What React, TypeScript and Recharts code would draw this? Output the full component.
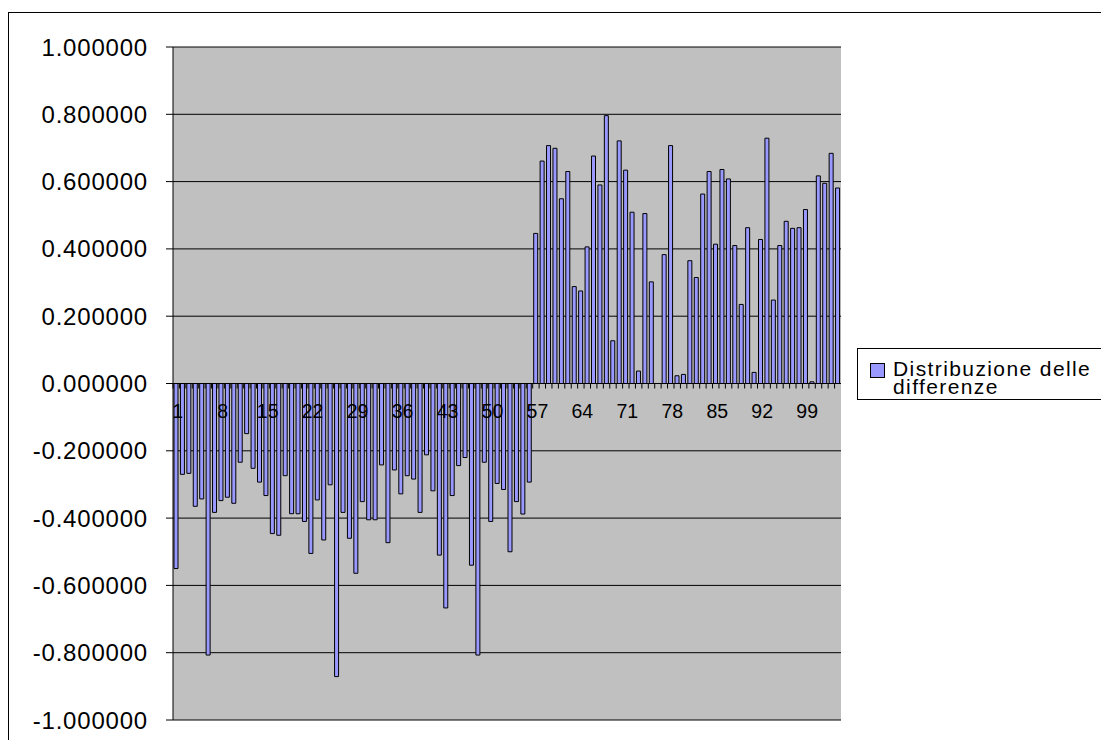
import * as React from "react";
import {
  BarChart, Bar, XAxis, YAxis, CartesianGrid, ReferenceLine, Legend
} from "recharts";

const differences = [
  -0.55, -0.27, -0.267, -0.365, -0.343, -0.807, -0.383, -0.348, -0.338, -0.356,
  -0.234, -0.149, -0.252, -0.293, -0.333, -0.446, -0.451, -0.274, -0.387, -0.387,
  -0.41, -0.505, -0.346, -0.465, -0.301, -0.871, -0.383, -0.46, -0.564, -0.351,
  -0.405, -0.405, -0.242, -0.473, -0.257, -0.328, -0.274, -0.284, -0.383, -0.212,
  -0.319, -0.51, -0.667, -0.333, -0.244, -0.22, -0.54, -0.807, -0.234, -0.41,
  -0.297, -0.315, -0.5, -0.351, -0.388, -0.293,
  0.446, 0.661, 0.707, 0.699, 0.549, 0.63, 0.288, 0.275, 0.406, 0.676,
  0.59, 0.796, 0.127, 0.721, 0.634, 0.509, 0.037, 0.505, 0.302, 0.0,
  0.383, 0.707, 0.023, 0.027, 0.365, 0.315, 0.563, 0.63, 0.414, 0.636,
  0.608, 0.41, 0.235, 0.463, 0.033, 0.428, 0.729, 0.248, 0.41, 0.482,
  0.461, 0.463, 0.517, 0.005, 0.617, 0.595, 0.684, 0.581,
];
const categories = differences.map((_, i) => i + 1);
const yTicks = [-1, -0.8, -0.6, -0.4, -0.2, 0, 0.2, 0.4, 0.6, 0.8, 1];
const seriesName = "Distribuzione delle differenze";

const chartData = categories.map((c, i) => ({ cat: c, diff: differences[i] }));

const W = 1100;
const H = 727;
const X_AXIS_H = 1;
const M = { top: 34, right: 268, bottom: 19, left: 0 };
const Y_AXIS_W = 164;
const PLOT_H = H - M.top - M.bottom - X_AXIS_H;
const PLOT_W = W - M.left - M.right - Y_AXIS_W;
const ZERO_Y = M.top + PLOT_H / 2;
const BAND = PLOT_W / categories.length;
const FONT = "'Liberation Sans', Arial, sans-serif";

const renderCategoryTick = (props: any) => {
  const { x, index, payload } = props;
  const left = x - BAND / 2;
  return (
    <g key={`t-${index}`}>
      <line x1={left} x2={left} y1={ZERO_Y} y2={ZERO_Y + 5} stroke="#000" />
      {index % 7 === 0 ? (
        <text x={x + 1.5} y={ZERO_Y + 34} textAnchor="middle" fontSize={19.5} fontFamily={FONT} fill="#000">
          {payload.value}
        </text>
      ) : null}
    </g>
  );
};

function LegendBox({ payload }: any) {
  const item = payload && payload[0];
  return (
    <div style={{ border: "1px solid #000", background: "#fff", width: 270, height: 52, boxSizing: "border-box", display: "flex", alignItems: "flex-start", fontFamily: FONT }}>
      <div style={{ width: 13, height: 13, background: "#9999FF", border: "1px solid #000", marginLeft: 12, marginTop: 14, flexShrink: 0 }} />
      <div style={{ marginLeft: 8, marginTop: 11, width: 215, fontSize: 21, letterSpacing: 1.4, lineHeight: "18px", color: "#000", textAlign: "left" }}>
        {item ? item.value : seriesName}
      </div>
    </div>
  );
}

export default function App() {
  return (
    <div style={{ marginTop: 4, width: 1101, height: 727, borderTop: "1px solid #000", borderLeft: "1px solid #000", overflow: "hidden", background: "#fff", fontFamily: FONT }}>
      <BarChart width={W} height={H} data={chartData} margin={M} barGap={0}>
        <CartesianGrid horizontal vertical={false} stroke="#000" fill="#C0C0C0" fillOpacity={1} />
        <YAxis
          type="number"
          domain={[-1, 1]}
          ticks={yTicks}
          width={Y_AXIS_W}
          tickSize={7}
          tickMargin={18}
          tickFormatter={(v: number) => v.toFixed(6)}
          tick={{ fontSize: 24, fill: "#000", fontFamily: FONT, letterSpacing: 0.8 }}
          axisLine={{ stroke: "#000" }}
          tickLine={{ stroke: "#000" }}
          interval={0}
        />
        <YAxis yAxisId="frame" orientation="right" domain={[-1, 1]} width={0} tick={false} tickLine={false} axisLine={{ stroke: "#808080" }} />
        <ReferenceLine y={0} stroke="#000" />
        <Bar
          dataKey="diff"
          name={seriesName}
          fill="#9999FF"
          stroke="#000"
          strokeWidth={1}
          barSize={4}
          isAnimationActive={false}
        />
        <XAxis
          dataKey="cat"
          height={X_AXIS_H}
          interval={0}
          axisLine={false}
          tickLine={false}
          tick={renderCategoryTick}
        />
        <Legend
          layout="horizontal"
          verticalAlign="middle"
          align="center"
          content={<LegendBox />}
          wrapperStyle={{ position: "absolute", left: 848, top: 335, width: 270 }}
        />
      </BarChart>
    </div>
  );
}
